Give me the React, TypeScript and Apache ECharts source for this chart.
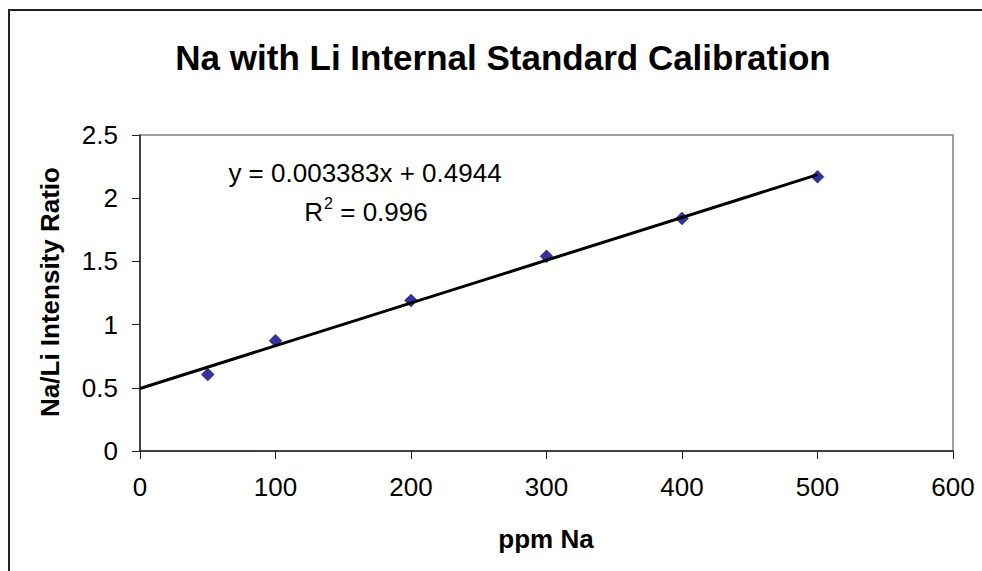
import React, { useEffect, useRef } from "react";
import * as echarts from "echarts";

const TITLE = "Na with Li Internal Standard Calibration";
const X_NAME = "ppm Na";
const Y_NAME = "Na/Li Intensity Ratio";
const EQUATION = "y = 0.003383x + 0.4944";
const R2_VALUE = "0.996";

const ppmNa = [50, 100, 200, 300, 400, 500];
const ratio = [0.605, 0.872, 1.19, 1.54, 1.84, 2.17];

// trendline endpoints (x = 0 and x = 500)
const trendX = [0, 500];
const trendY = [0.4944, 2.186];

const FONT = "'Liberation Sans', Arial, sans-serif";

export default function App() {
  const ref = useRef<HTMLDivElement>(null);
  useEffect(() => {
    if (!ref.current) return;
    const chart = echarts.init(ref.current, undefined, { renderer: "svg" });
    chart.setOption({
      animation: false,
      backgroundColor: "#ffffff",
      textStyle: { fontFamily: FONT },
      grid: {
        left: 140,
        right: 29,
        top: 135,
        bottom: 120,
        show: true,
        borderColor: "#808080",
        borderWidth: 1.5,
        backgroundColor: "#ffffff",
      },
      xAxis: {
        type: "value",
        min: 0,
        max: 600,
        interval: 100,
        splitLine: { show: false },
        axisLine: { show: true, lineStyle: { color: "#222", width: 1.5 } },
        axisTick: { show: true, inside: false, length: 8, lineStyle: { color: "#222", width: 1 } },
        axisLabel: { color: "#000", fontSize: 26, fontFamily: FONT, margin: 23 },
      },
      yAxis: {
        type: "value",
        min: 0,
        max: 2.5,
        interval: 0.5,
        splitLine: { show: false },
        axisLine: { show: true, lineStyle: { color: "#222", width: 1.5 } },
        axisTick: { show: true, inside: false, length: 8, lineStyle: { color: "#222", width: 1 } },
        axisLabel: { color: "#000", fontSize: 26, fontFamily: FONT, margin: 22 },
      },
      series: [
        {
          type: "scatter",
          data: ppmNa.map((x, i) => [x, ratio[i]]),
          symbol: "diamond",
          symbolSize: 13,
          itemStyle: { color: "#000080", borderColor: "#000080", borderWidth: 0.5 },
          z: 2,
        },
        {
          type: "line",
          data: trendX.map((x, i) => [x, trendY[i]]),
          showSymbol: false,
          symbol: "none",
          lineStyle: { color: "#000", width: 3 },
          z: 3,
          silent: true,
        },
      ],
      graphic: [
        {
          type: "polyline",
          shape: { points: [[9, 600], [9, 10], [1200, 10]] },
          style: { fill: "none", stroke: "#222", lineWidth: 2 },
          silent: true,
          z: 100,
        },
        {
          type: "text",
          x: 503,
          y: 57,
          style: {
            text: TITLE,
            fontSize: 35,
            fontWeight: "bold",
            fontFamily: FONT,
            fill: "#000",
            align: "center",
            verticalAlign: "middle",
          },
        },
        {
          type: "text",
          x: 50,
          y: 292,
          rotation: Math.PI / 2,
          style: {
            text: Y_NAME,
            fontSize: 26,
            fontWeight: "bold",
            fontFamily: FONT,
            fill: "#000",
            align: "center",
            verticalAlign: "middle",
          },
        },
        {
          type: "text",
          x: 546,
          y: 539,
          style: {
            text: X_NAME,
            fontSize: 26,
            fontWeight: "bold",
            fontFamily: FONT,
            fill: "#000",
            align: "center",
            verticalAlign: "middle",
          },
        },
        {
          type: "text",
          x: 365,
          y: 173,
          style: {
            text: EQUATION,
            fontSize: 26,
            fontFamily: FONT,
            fill: "#000",
            align: "center",
            verticalAlign: "middle",
          },
        },
        {
          type: "text",
          x: 366,
          y: 210,
          style: {
            text: "{r|R}{sup|2}{r| = " + R2_VALUE + "}",
            fontFamily: FONT,
            fill: "#000",
            align: "center",
            verticalAlign: "middle",
            rich: {
              r: { fontSize: 26, fontFamily: FONT, fill: "#000", lineHeight: 30, verticalAlign: "bottom" },
              sup: { fontSize: 16, fontFamily: FONT, fill: "#000", lineHeight: 30, verticalAlign: "top", padding: [0, 0, 0, 1] },
            },
          },
        },
      ],
    });
    return () => chart.dispose();
  }, []);
  return (
    <div
      ref={ref}
      style={{ position: "fixed", left: 0, top: 0, width: 982, height: 571 }}
    />
  );
}
